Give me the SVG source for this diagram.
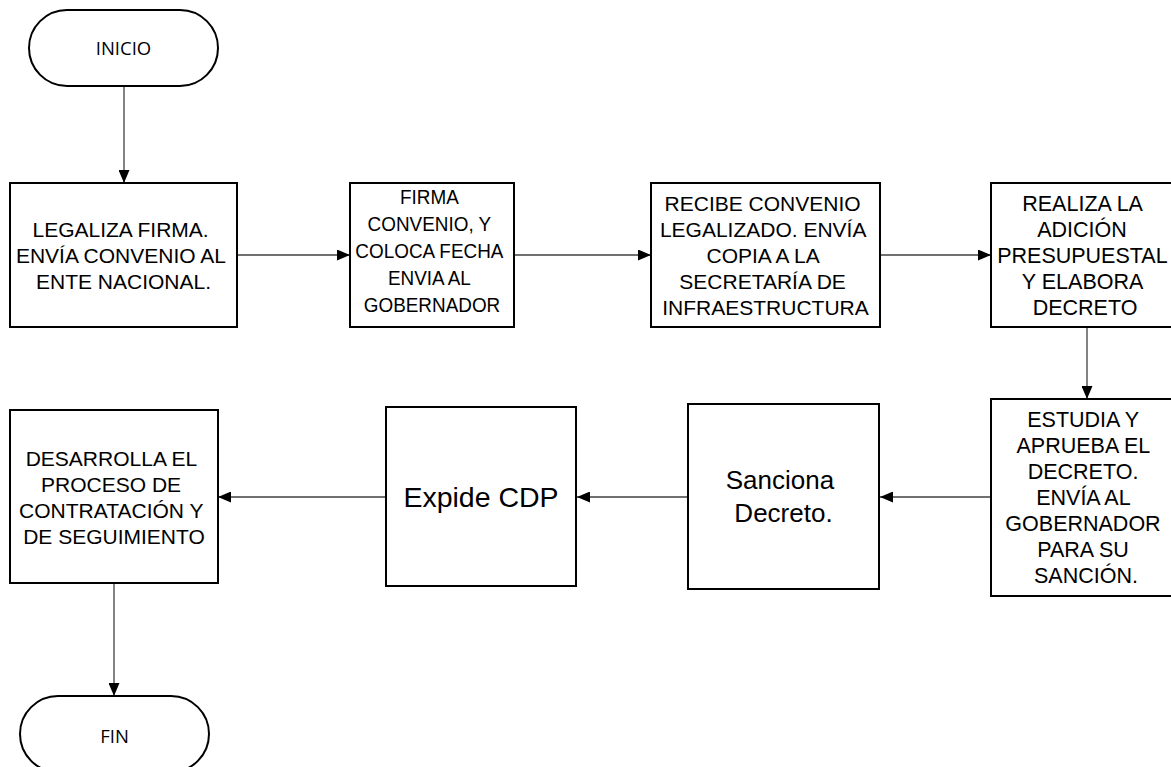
<svg xmlns="http://www.w3.org/2000/svg" width="1171" height="767" viewBox="0 0 1171 767">
  <style>
    .box { fill: #ffffff; stroke: #000000; stroke-width: 2; }
    .term { fill: #ffffff; stroke: #000000; stroke-width: 2; }
    .lbl { font-family: "Liberation Sans", Arial, sans-serif; font-size: 21px; fill: #000000; text-anchor: middle; }
    .tlbl { font-family: "Open Sans", "Noto Sans", sans-serif; font-size: 18.5px; fill: #000000; text-anchor: middle; }
    .conn { fill: none; stroke: #404040; stroke-width: 1.3; marker-end: url(#arrow); }
  </style>
  <defs>
    <marker id="arrow" markerUnits="userSpaceOnUse" markerWidth="13" markerHeight="11" refX="13" refY="5.5" orient="auto">
      <path d="M0,0 L13,5.5 L0,11 Z" fill="#000000"/>
    </marker>
  </defs>

  <rect width="1171" height="767" fill="#ffffff"/>

  <!-- connectors -->
  <g id="connectors">
    <line class="conn" x1="124" y1="86" x2="124" y2="183"/>
    <line class="conn" x1="237" y1="255" x2="350" y2="255"/>
    <line class="conn" x1="514" y1="255" x2="651" y2="255"/>
    <line class="conn" x1="880" y1="255" x2="991" y2="255"/>
    <line class="conn" x1="1087" y1="327" x2="1087" y2="399"/>
    <line class="conn" x1="991" y1="497" x2="880" y2="497"/>
    <line class="conn" x1="688" y1="497" x2="577" y2="497"/>
    <line class="conn" x1="386" y1="497" x2="218" y2="497"/>
    <line class="conn" x1="114" y1="583" x2="114" y2="696"/>
  </g>

  <g id="inicio">
    <rect class="term" x="29" y="10" width="189" height="76" rx="38" ry="38"/>
    <text class="tlbl" x="123.5" y="54.5">INICIO</text>
  </g>

  <g id="legaliza">
    <rect class="box" x="10" y="183" width="227" height="144"/>
    <text class="lbl">
      <tspan x="123.5" y="236.5">LEGALIZA FIRMA.</tspan>
      <tspan x="123.5" y="262.5">ENVÍA CONVENIO AL</tspan>
      <tspan x="123.5" y="288.5">ENTE NACIONAL.</tspan>
    </text>
  </g>

  <g id="firma">
    <rect class="box" x="350" y="183" width="164" height="144"/>
    <!-- narrowed lettering so the widest line fits the box -->
    <text class="lbl" transform="translate(432,0) scale(0.9,1)">
      <tspan x="0" y="204.5">FIRMA</tspan>
      <tspan x="0" y="231.5">CONVENIO, Y</tspan>
      <tspan x="0" y="258.5">COLOCA FECHA</tspan>
      <tspan x="0" y="285.5">ENVIA AL</tspan>
      <tspan x="0" y="312.5">GOBERNADOR</tspan>
    </text>
  </g>

  <g id="recibe">
    <rect class="box" x="651" y="183" width="229" height="144"/>
    <text class="lbl">
      <tspan x="765.5" y="210.5">RECIBE CONVENIO</tspan>
      <tspan x="765.5" y="236.5">LEGALIZADO. ENVÍA</tspan>
      <tspan x="765.5" y="262.5">COPIA A LA</tspan>
      <tspan x="765.5" y="288.5">SECRETARÍA DE</tspan>
      <tspan x="765.5" y="314.5">INFRAESTRUCTURA</tspan>
    </text>
  </g>

  <g id="realiza">
    <rect class="box" x="991" y="183" width="192" height="144"/>
    <text class="lbl" style="font-size:21.5px">
      <tspan x="1085" y="210.7">REALIZA LA</tspan>
      <tspan x="1085" y="236.7">ADICIÓN</tspan>
      <tspan x="1085" y="262.7">PRESUPUESTAL</tspan>
      <tspan x="1085" y="288.7">Y ELABORA</tspan>
      <tspan x="1085" y="314.7">DECRETO</tspan>
    </text>
  </g>

  <g id="estudia">
    <rect class="box" x="991" y="399" width="192" height="197"/>
    <text class="lbl" style="font-size:21.5px">
      <tspan x="1086" y="427.2">ESTUDIA Y</tspan>
      <tspan x="1086" y="453.2">APRUEBA EL</tspan>
      <tspan x="1086" y="479.2">DECRETO.</tspan>
      <tspan x="1086" y="505.2">ENVÍA AL</tspan>
      <tspan x="1086" y="531.2">GOBERNADOR</tspan>
      <tspan x="1086" y="557.2">PARA SU</tspan>
      <tspan x="1086" y="583.2">SANCIÓN.</tspan>
    </text>
  </g>

  <g id="sanciona">
    <rect class="box" x="688" y="404" width="191" height="185"/>
    <text class="lbl" style="font-size:26px">
      <tspan x="783.5" y="489">Sanciona</tspan>
      <tspan x="783.5" y="522">Decreto.</tspan>
    </text>
  </g>

  <g id="expide">
    <rect class="box" x="386" y="407" width="190" height="179"/>
    <text class="lbl" style="font-size:28.5px" x="481" y="506.5">Expide CDP</text>
  </g>

  <g id="desarrolla">
    <rect class="box" x="10" y="410" width="208" height="173"/>
    <text class="lbl">
      <tspan x="114" y="465.5">DESARROLLA EL</tspan>
      <tspan x="114" y="491.5">PROCESO DE</tspan>
      <tspan x="114" y="517.5">CONTRATACIÓN Y</tspan>
      <tspan x="114" y="543.5">DE SEGUIMIENTO</tspan>
    </text>
  </g>

  <g id="fin">
    <rect class="term" x="20" y="696" width="189" height="76" rx="38" ry="38"/>
    <text class="tlbl" x="114.5" y="743">FIN</text>
  </g>
</svg>
